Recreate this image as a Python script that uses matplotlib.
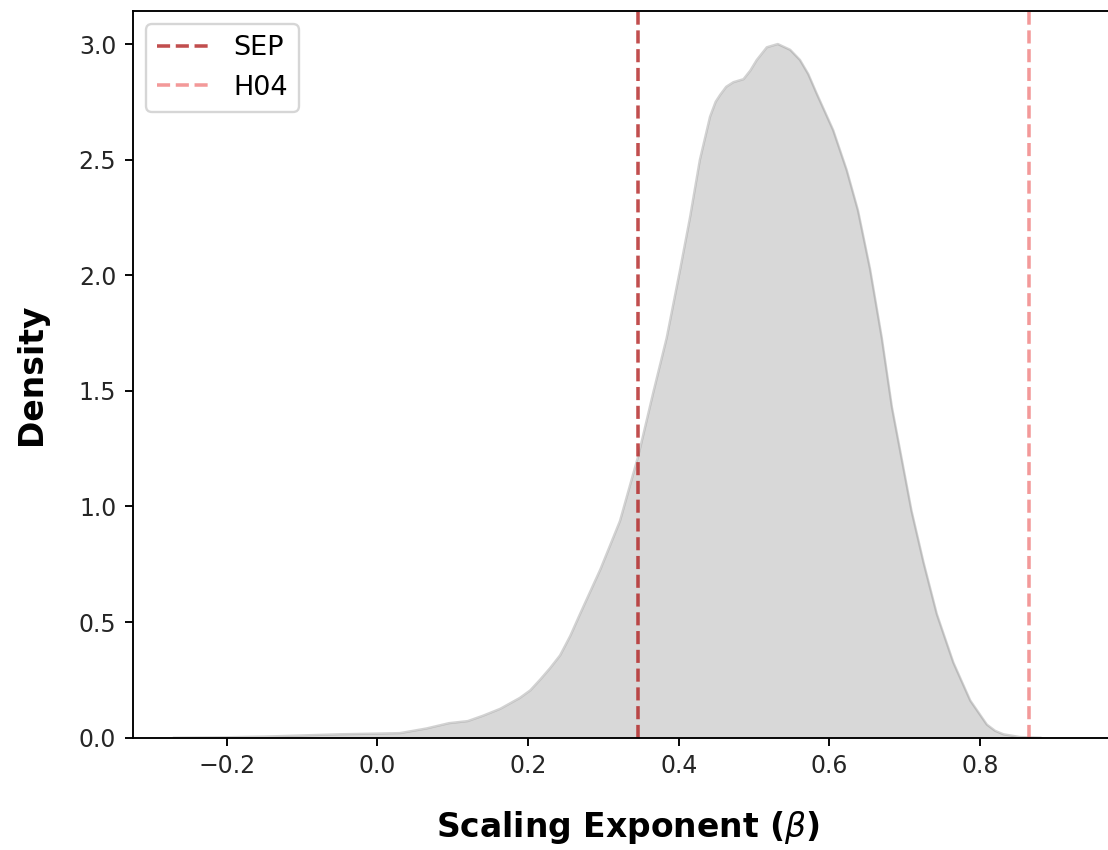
import numpy as np
from matplotlib import pyplot as plt

# KDE of the fitted scaling exponents (beta), sampled along the x axis
beta = [-0.27, -0.20, -0.15, -0.10, -0.05, 0.00, 0.03, 0.065, 0.095, 0.12,
        0.14, 0.163, 0.189, 0.203, 0.216, 0.229, 0.2425, 0.256, 0.269, 0.296,
        0.322, 0.3465, 0.366, 0.384, 0.402, 0.415, 0.428, 0.4416, 0.449, 0.455,
        0.463, 0.4726, 0.486, 0.495, 0.5036, 0.517, 0.5315, 0.548, 0.561, 0.572,
        0.583, 0.605, 0.623, 0.638, 0.654, 0.6696, 0.683, 0.696, 0.709, 0.725,
        0.7426, 0.7646, 0.787, 0.809, 0.82, 0.831, 0.853, 0.88]
density = [0.0, 0.002, 0.005, 0.010, 0.015, 0.018, 0.020, 0.040, 0.063, 0.072,
           0.095, 0.125, 0.172, 0.205, 0.251, 0.30, 0.356, 0.44, 0.535, 0.728,
           0.937, 1.221, 1.49, 1.729, 2.027, 2.25, 2.498, 2.686, 2.75, 2.78,
           2.815, 2.835, 2.848, 2.885, 2.931, 2.986, 3.000, 2.975, 2.931, 2.87,
           2.787, 2.628, 2.455, 2.28, 2.027, 1.729, 1.430, 1.206, 0.982, 0.758,
           0.535, 0.325, 0.161, 0.057, 0.030, 0.015, 0.003, 0.0]

# reference exponents
ref_names = ["SEP", "H04"]
ref_values = [0.3465, 0.8655]
ref_colors = ["firebrick", "lightcoral"]

fig = plt.figure(figsize=(1108 / 170, 850 / 170), dpi=170)
ax = fig.add_axes([0.1198, 0.1321, 0.8939, 0.8553])

ax.fill_between(beta, density, color="gray", alpha=0.3, linewidth=0)
ax.plot(beta, density, color="gray", alpha=0.35, linewidth=1.0)

for name, val, col in zip(ref_names, ref_values, ref_colors):
    ax.axvline(val, color=col, linestyle="--", linewidth=1.5, alpha=0.8, label=name)

ax.set_xlim(-0.3247, 0.99)
ax.set_ylim(0, 3.144)
ax.set_xticks([-0.2, 0.0, 0.2, 0.4, 0.6, 0.8])
ax.tick_params(labelcolor="#262626")
ax.set_xlabel(r"Scaling Exponent ($\beta$)", fontsize=14, fontweight="bold", labelpad=13)
ax.set_ylabel("Density", fontsize=14, fontweight="bold", labelpad=13)
ax.legend(loc="upper left", fontsize=11.5)

fig.savefig("out.png", dpi=170)
